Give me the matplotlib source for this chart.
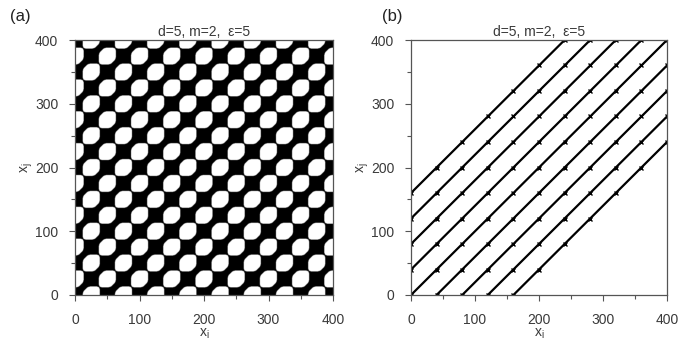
import numpy as np
import matplotlib
matplotlib.use("Agg")
import matplotlib.pyplot as plt
from matplotlib.ticker import MultipleLocator

plt.rcParams['font.family'] = ['Liberation Sans', 'DejaVu Sans']

# ---- data ----
n_grid = 801
period_a = 50.0        # lattice period of the recurrence pattern in panel (a)
cell_half_side = 13.3  # half side of the (rounded, axis aligned) white cells
cell_band_half = 12.8  # half width of cells measured across the main diagonal
offsets_b = [-160, -120, -80, -40, 0, 40, 80, 120, 160]   # diagonal lines in panel (b)
mark_step_b = 40
ticks = [0, 100, 200, 300, 400]
title = "d=5, m=2,  \u03b5=5"

# ---- recurrence pattern for (a) ----
g = np.linspace(0, 400, n_grid)
X, Y = np.meshgrid(g, g)
s = period_a / np.sqrt(2)
U = (X + Y) / np.sqrt(2)
V = (Y - X) / np.sqrt(2)
du = np.mod(U, s) - s / 2
dv = np.mod(V, s) - s / 2
dx = (du - dv) / np.sqrt(2)
dy = (du + dv) / np.sqrt(2)
f1 = ((np.abs(dx) / cell_half_side) ** 6 + (np.abs(dy) / cell_half_side) ** 6) ** (1 / 6)
f2 = np.abs(dv) / cell_band_half
f = (f1 ** 10 + f2 ** 10) ** (1 / 10)
rec = (f >= 1).astype(float)

fig = plt.figure(figsize=(6.91, 3.40), dpi=100)
axa = fig.add_axes([75 / 691, 1 - 295 / 340, 258 / 691, 255 / 340])
axb = fig.add_axes([411 / 691, 1 - 295 / 340, 256 / 691, 255 / 340])

axa.imshow(rec, origin='lower', extent=[0, 400, 0, 400], cmap='gray_r',
           interpolation='bilinear', aspect='auto', vmin=0, vmax=1)

for off in offsets_b:
    x0 = max(0, -off)
    x1 = min(400, 400 - off)
    xs = np.array([x0, x1])
    axb.plot(xs, xs + off, color='black', lw=1.6, solid_capstyle='butt')
    xm = np.arange(0, 401, mark_step_b)
    xm = xm[(xm >= x0) & (xm <= x1)]
    axb.plot(xm, xm + off, ls='none', marker='x', ms=2.5, mew=1.0, color='black')

txtc = '#3a3a3a'
for ax in (axa, axb):
    ax.set_xlim(0, 400)
    ax.set_ylim(0, 400)
    ax.set_xticks(ticks)
    ax.set_yticks(ticks)
    ax.xaxis.set_minor_locator(MultipleLocator(50))
    ax.yaxis.set_minor_locator(MultipleLocator(50))
    ax.tick_params(which='major', direction='out', length=4, width=0.8,
                   colors='#555555', labelcolor=txtc, labelsize=10)
    ax.tick_params(axis='x', which='major', pad=9)
    ax.tick_params(axis='y', which='major', pad=8)
    ax.tick_params(which='minor', direction='out', length=3, width=0.8, colors='#555555')
    for sp in ax.spines.values():
        sp.set_color('#555555')
        sp.set_linewidth(0.9)
    ax.set_title(title, fontsize=10, color=txtc, pad=3)
    ax.set_xlabel('x$_\\mathregular{i}$', fontsize=10, color=txtc, labelpad=0)
    ax.set_ylabel('x$_\\mathregular{j}$', fontsize=10, color=txtc, labelpad=0)

fig.text(10 / 691, 1 - 17 / 340, '(a)', fontsize=12, color='#222222', va='center')
fig.text(382 / 691, 1 - 17 / 340, '(b)', fontsize=12, color='#222222', va='center')

fig.savefig('out.png', dpi=100)
